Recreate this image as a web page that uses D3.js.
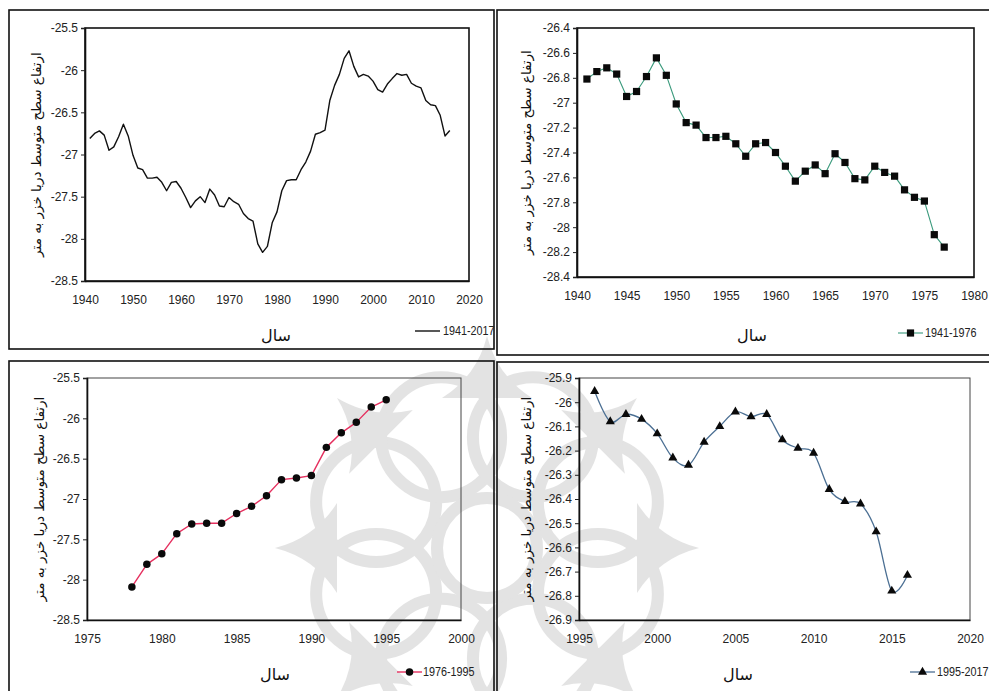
<!DOCTYPE html>
<html><head><meta charset="utf-8">
<script src="https://cdn.jsdelivr.net/npm/d3@7"></script>
<style>
html,body{margin:0;padding:0;background:#fff;}
svg{display:block;}
.tick text{font-family:"Liberation Sans",Arial,sans-serif;font-size:12px;fill:#222;}
.fa{font-family:"DejaVu Sans",sans-serif;fill:#111;}
.leg{font-family:"Liberation Sans",Arial,sans-serif;font-size:13.5px;fill:#222;}
</style></head>
<body>
<svg id="c" width="989" height="691"></svg>
<script>
// ---- data ----
const years1941_1977 = d3.range(1941, 1978);
const levels1941_1977 = [-26.81,-26.75,-26.72,-26.77,-26.95,-26.91,-26.79,-26.64,-26.78,-27.01,
  -27.16,-27.18,-27.28,-27.28,-27.27,-27.33,-27.43,-27.33,-27.32,-27.40,
  -27.51,-27.63,-27.55,-27.50,-27.57,-27.41,-27.48,-27.61,-27.62,-27.51,
  -27.56,-27.59,-27.70,-27.76,-27.79,-28.06,-28.16];
const years1978_1995 = d3.range(1978, 1996);
const levels1978_1995 = [-28.09,-27.81,-27.68,-27.43,-27.31,-27.30,-27.30,-27.18,-27.09,-26.96,
  -26.76,-26.74,-26.71,-26.36,-26.18,-26.05,-25.86,-25.77];
const years1996_2016 = d3.range(1996, 2017);
const levels1996_2016 = [-25.955,-26.08,-26.05,-26.07,-26.13,-26.23,-26.26,-26.165,-26.10,-26.04,
  -26.06,-26.05,-26.155,-26.19,-26.21,-26.36,-26.41,-26.42,-26.535,-26.78,-26.715];

const legendLabels = ["1941-2017","1941-1976","1976-1995","1995-2017"];
const yTitle = "ارتفاع سطح متوسط دریا خزر به متر";
const xTitle = "سال";

const zip = (xs, ys) => xs.map((x,i)=>({x, y: ys[i]}));
const seriesAll = zip(years1941_1977.concat(years1978_1995, years1996_2016),
                      levels1941_1977.concat(levels1978_1995, levels1996_2016));
const series2 = zip(years1941_1977, levels1941_1977);
const series3 = zip(years1978_1995, levels1978_1995);
const series4 = zip(years1996_2016, levels1996_2016);

const svg = d3.select("#c");
svg.append("rect").attr("width",989).attr("height",691).attr("fill","#fff");

// faint watermark rosette (decorative, drawn behind)
const wm = svg.append("g").attr("transform","translate(487,548)")
  .attr("fill","none").attr("stroke","#c8c8c8").attr("stroke-width",12)
  .attr("opacity",0.5).style("pointer-events","none");
d3.range(8).forEach(k=>{
  const a = (k*45+22.5)*Math.PI/180;
  wm.append("circle").attr("cx",120*Math.cos(a)).attr("cy",120*Math.sin(a)).attr("r",60);
});
d3.range(8).forEach(k=>{
  wm.append("path").attr("transform",`rotate(${k*45-90})`)
    .attr("d","M-45,150 Q-10,172 0,212 Q10,172 45,150")
    .attr("fill","#c8c8c8").attr("stroke","none");
});
wm.append("circle").attr("r",50);

// panel frames
const frames = svg.append("g").attr("fill","none").attr("stroke","#111").attr("stroke-width",1.6);
frames.append("rect").attr("x",9).attr("y",10).attr("width",485).attr("height",339);
frames.append("rect").attr("x",497).attr("y",10).attr("width",500).attr("height",345);
frames.append("rect").attr("x",9).attr("y",361).attr("width",485).attr("height",340);
frames.append("rect").attr("x",497).attr("y",362).attr("width",500).attr("height",340);

const panels = [
  {data: seriesAll, box:[85,469,28,281], yd:[-28.5,-25.5], ys:0.5, xd:[1940,2020], xs:10,
   color:"#111", width:1.4, marker:null, curve:d3.curveLinear, full:true,
   leg:{x0:415, tx:443, y:331}, label:legendLabels[0], title:{x:37, xt:276, yt:336}},
  {data: series2, box:[577,974,28,277], yd:[-28.4,-26.4], ys:0.2, xd:[1940,1980], xs:5,
   color:"#3a9a7c", width:1.1, marker:"square", curve:d3.curveLinear, full:true,
   leg:{x0:898, tx:925, y:333}, label:legendLabels[1], title:{x:527, xt:752, yt:336}},
  {data: series3, box:[87,461,378,620], yd:[-28.5,-25.5], ys:0.5, xd:[1975,2000], xs:5,
   color:"#e5305f", width:1.4, marker:"circle", curve:d3.curveLinear, full:false,
   leg:{x0:397, tx:423, y:672}, label:legendLabels[2], title:{x:40, xt:275, yt:675}},
  {data: series4, box:[579,970,378,620], yd:[-26.9,-25.9], ys:0.1, xd:[1995,2020], xs:5,
   color:"#4b6f93", width:1.3, marker:"triangle", curve:d3.curveCardinal.tension(0), full:false,
   leg:{x0:910, tx:937, y:672}, label:legendLabels[3], title:{x:527, xt:738, yt:675}}
];

const fmt = d => String(+d.toFixed(1));

function markerPath(type){
  if(type==="square") return d3.symbol(d3.symbolSquare, 52)();
  if(type==="circle") return d3.symbol(d3.symbolCircle, 44)();
  if(type==="triangle") return d3.symbol(d3.symbolTriangle, 36)();
  return null;
}

panels.forEach(p => {
  const [x0,x1,y0,y1] = p.box;
  const x = d3.scaleLinear().domain(p.xd).range([x0,x1]);
  const y = d3.scaleLinear().domain(p.yd).range([y1,y0]);
  const g = svg.append("g");

  g.append("rect").attr("x",x0).attr("y",y0).attr("width",x1-x0).attr("height",y1-y0)
    .attr("fill","none").attr("stroke", p.full ? "#111" : "#444")
    .attr("stroke-width", p.full ? 1.6 : 1);

  const yt = d3.range(p.yd[0], p.yd[1] + p.ys/2, p.ys).map(v=>+v.toFixed(2));
  const xt = d3.range(p.xd[0], p.xd[1] + 0.5, p.xs);

  const ya = g.append("g").attr("transform",`translate(${x0},0)`)
    .call(d3.axisLeft(y).tickValues(yt).tickFormat(fmt).tickSize(4).tickPadding(3));
  ya.select(".domain").attr("stroke","#111").attr("stroke-width",1.6);
  ya.selectAll(".tick line").attr("stroke","#222");

  const xa = g.append("g").attr("transform",`translate(0,${y1})`)
    .call(d3.axisBottom(x).tickValues(xt).tickFormat(d3.format("d")).tickSize(0).tickPadding(14));
  xa.select(".domain").attr("stroke","#111").attr("stroke-width",1.6);

  const line = d3.line().x(d=>x(d.x)).y(d=>y(d.y)).curve(p.curve);
  g.append("path").datum(p.data).attr("d",line).attr("fill","none")
    .attr("stroke",p.color).attr("stroke-width",p.width).attr("stroke-linejoin","round");

  if(p.marker){
    g.selectAll("path.mk").data(p.data).join("path").attr("class","mk")
      .attr("d", markerPath(p.marker))
      .attr("transform", d=>`translate(${x(d.x)},${y(d.y)})`)
      .attr("fill","#0a0a0a");
  }

  g.append("text").attr("class","fa").attr("font-size",13.5)
    .attr("transform",`translate(${p.title.x},${(y0+y1)/2}) rotate(-90)`)
    .attr("text-anchor","middle").attr("dominant-baseline","middle").attr("direction","rtl")
    .text(yTitle);
  g.append("text").attr("class","fa").attr("font-size",16)
    .attr("x",p.title.xt).attr("y",p.title.yt).attr("text-anchor","middle")
    .attr("dominant-baseline","middle").text(xTitle);

  g.append("line").attr("x1",p.leg.x0).attr("x2",p.leg.x0+25).attr("y1",p.leg.y).attr("y2",p.leg.y)
    .attr("stroke",p.color).attr("stroke-width",p.width);
  if(p.marker){
    g.append("path").attr("d",markerPath(p.marker))
      .attr("transform",`translate(${p.leg.x0+12.5},${p.leg.y})`).attr("fill","#0a0a0a");
  }
  g.append("text").attr("class","leg")
    .attr("transform",`translate(${p.leg.tx},${p.leg.y}) scale(0.8,1)`)
    .attr("dominant-baseline","middle").text(p.label);
});
</script>
</body></html>
